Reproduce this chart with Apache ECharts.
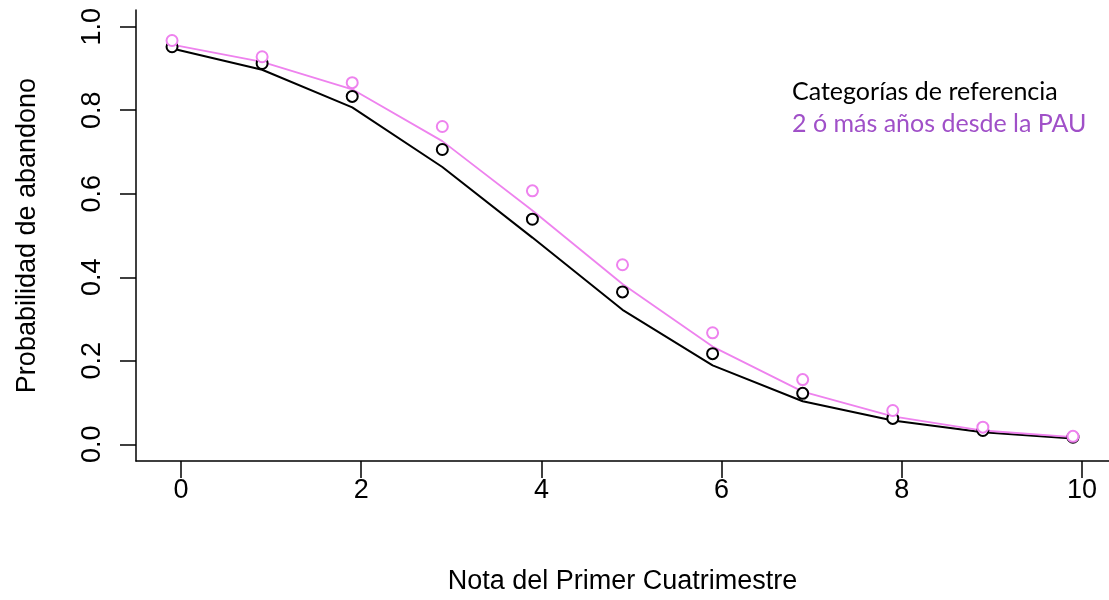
<!DOCTYPE html>
<html>
<head>
<meta charset="utf-8">
<script src="https://cdn.jsdelivr.net/npm/echarts@6/dist/echarts.min.js"></script>
<style>
  html, body { margin: 0; padding: 0; background: #fff; }
  #chart { width: 1109px; height: 600px; }
</style>
</head>
<body>
<div id="chart"></div>
<script>
// notas (desplazadas -0.1 como en el original)
var notas = [-0.1, 0.9, 1.9, 2.9, 3.9, 4.9, 5.9, 6.9, 7.9, 8.9, 9.9];

// categorias de referencia
var refObs = [0.952, 0.912, 0.833, 0.706, 0.539, 0.365, 0.217, 0.122, 0.062, 0.033, 0.017];
var refAjuste = [0.948, 0.897, 0.807, 0.664, 0.495, 0.322, 0.189, 0.103, 0.057, 0.029, 0.014];

// 2 o mas años desde la PAU
var pauObs = [0.967, 0.928, 0.866, 0.761, 0.607, 0.430, 0.267, 0.155, 0.081, 0.041, 0.019];
var pauAjuste = [0.957, 0.916, 0.850, 0.726, 0.560, 0.384, 0.234, 0.126, 0.067, 0.033, 0.017];

var xTicks = [0, 2, 4, 6, 8, 10];
var yTicks = [0, 0.2, 0.4, 0.6, 0.8, 1.0];

var nombreRef = "Categorías de referencia";
var nombrePau = "2 ó más años desde la PAU";

function pares(xs, ys) {
    return xs.map(function (x, i) { return [x, ys[i]]; });
}

var chart = echarts.init(document.getElementById("chart"));

var fuente = "Liberation Sans, Arial, sans-serif";

var option = {
    animation: false,
    backgroundColor: "#fff",
    grid: { left: 136, right: 0, top: 10, bottom: 137 },
    legend: {
        orient: "vertical",
        left: 782,
        top: 74,
        icon: "none",
        itemWidth: 0,
        itemGap: 7,
        textStyle: { fontFamily: "Lato, Open Sans, sans-serif", fontSize: 25 },
        data: [
            { name: nombreRef, textStyle: { color: "#000" } },
            { name: nombrePau, textStyle: { color: "#a050c8" } }
        ]
    },
    xAxis: {
        type: "value",
        min: -0.5,
        max: 10.3,
        name: "Nota del Primer Cuatrimestre",
        nameLocation: "middle",
        nameGap: 107,
        nameTextStyle: { color: "#000", fontSize: 27, fontFamily: fuente },
        splitLine: { show: false },
        axisLine: { show: true, onZero: false, lineStyle: { color: "#000", width: 1.5 } },
        axisTick: { show: true, length: 17, customValues: xTicks, lineStyle: { color: "#000", width: 1.5 } },
        axisLabel: { customValues: xTicks, margin: 16, color: "#000", fontSize: 27, fontFamily: fuente }
    },
    yAxis: {
        type: "value",
        min: -0.04,
        max: 1.04,
        name: "Probabilidad de abandono",
        nameLocation: "middle",
        nameGap: 95,
        nameTextStyle: { color: "#000", fontSize: 27, fontFamily: fuente },
        splitLine: { show: false },
        axisLine: { show: true, onZero: false, lineStyle: { color: "#000", width: 1.5 } },
        axisTick: { show: true, length: 16, customValues: yTicks, lineStyle: { color: "#000", width: 1.5 } },
        axisLabel: {
            customValues: yTicks,
            rotate: 90,
            margin: 30,
            color: "#000",
            fontSize: 27,
            fontFamily: fuente,
            formatter: function (v) { return v.toFixed(1); }
        }
    },
    series: [
        {
            name: nombreRef,
            type: "line",
            data: pares(notas, refAjuste),
            showSymbol: false,
            lineStyle: { color: "#000", width: 2 },
            itemStyle: { color: "#000" },
            z: 2
        },
        {
            name: nombreRef,
            type: "scatter",
            data: pares(notas, refObs),
            symbol: "emptyCircle",
            symbolSize: 11,
            itemStyle: { color: "#000", borderColor: "#000", borderWidth: 2, opacity: 1 },
            z: 3
        },
        {
            name: nombrePau,
            type: "line",
            data: pares(notas, pauAjuste),
            showSymbol: false,
            lineStyle: { color: "#ee82ee", width: 1.8 },
            itemStyle: { color: "#ee82ee" },
            z: 2
        },
        {
            name: nombrePau,
            type: "scatter",
            data: pares(notas, pauObs),
            symbol: "emptyCircle",
            symbolSize: 11,
            itemStyle: { color: "#ee82ee", borderColor: "#ee82ee", borderWidth: 2, opacity: 1 },
            z: 3
        }
    ]
};

chart.setOption(option);
</script>
</body>
</html>
